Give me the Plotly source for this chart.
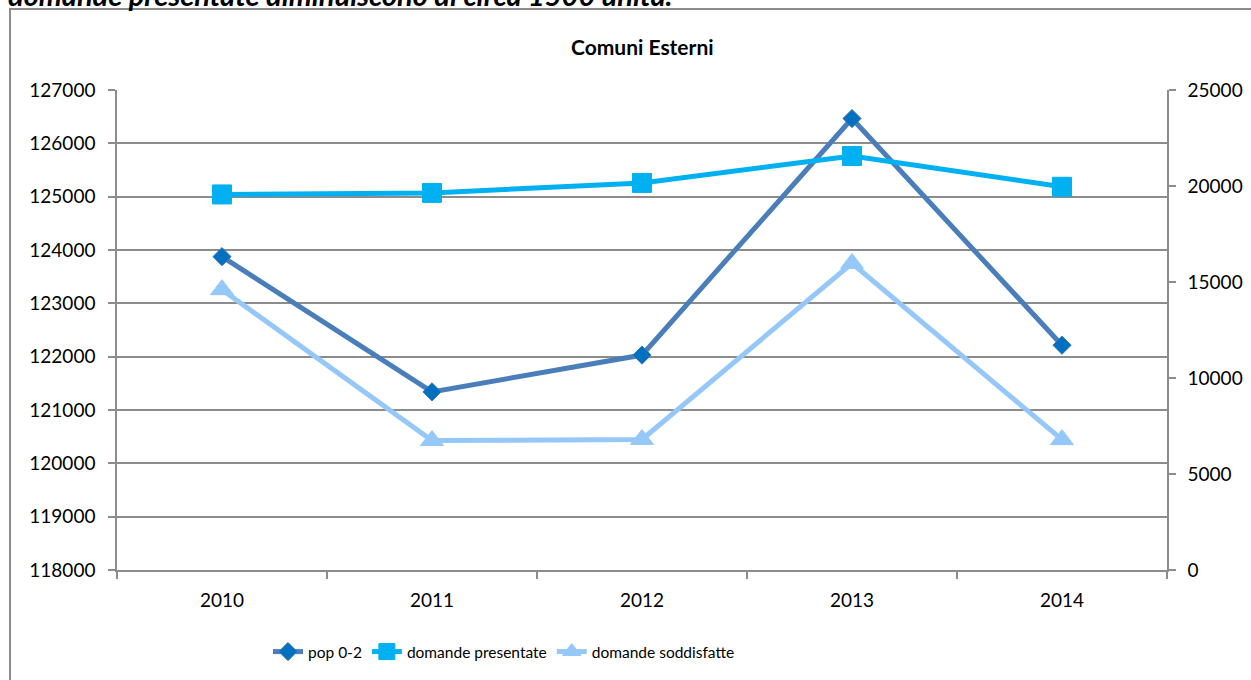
import plotly.graph_objects as go

years = ["2010", "2011", "2012", "2013", "2014"]
pop_0_2 = [123875, 121340, 122030, 126465, 122215]
domande_presentate = [19560, 19640, 20160, 21560, 19960]
domande_soddisfatte = [14600, 6740, 6800, 15970, 6790]

left_ticks = list(range(118000, 127001, 1000))
right_ticks = list(range(0, 25001, 5000))

FONT = "Lato"
GRID = "#8C8C8C"

fig = go.Figure()

fig.add_trace(go.Scatter(
    x=years, y=pop_0_2, name="pop 0-2", mode="lines+markers",
    line=dict(color="#4A7EBB", width=5),
    marker=dict(symbol="diamond", size=14, color="#0070C0",
                line=dict(color="#3F74B5", width=1)),
    yaxis="y",
))
fig.add_trace(go.Scatter(
    x=years, y=domande_presentate, name="domande presentate", mode="lines+markers",
    line=dict(color="#00B0F0", width=5),
    marker=dict(symbol="square", size=19, color="#00B0F0",
                line=dict(color="#00B0F0", width=1)),
    yaxis="y2",
))
fig.add_trace(go.Scatter(
    x=years, y=domande_soddisfatte, name="domande soddisfatte", mode="lines+markers",
    line=dict(color="#95C8F8", width=5),
    marker=dict(symbol="triangle-up", size=20, color="#95C8F8",
                line=dict(color="#95C8F8", width=1)),
    yaxis="y2",
))

fig.update_layout(
    width=1251, height=680,
    margin=dict(l=117, r=84, t=90, b=110, autoexpand=False),
    paper_bgcolor="white", plot_bgcolor="white",
    font=dict(family=FONT, size=19, color="black"),
    showlegend=True,
    legend=dict(orientation="h", x=(504 - 117) / 1050, xanchor="center",
                y=-(652 - 570) / 480, yanchor="middle",
                font=dict(family=FONT, size=15.5, color="black"),
                itemwidth=30, tracegroupgap=0, bgcolor="rgba(0,0,0,0)"),
    xaxis=dict(
        type="category", range=[-0.5, 4.5], tickson="boundaries",
        ticks="outside", ticklen=7, tickcolor=GRID, tickwidth=1.5,
        showline=True, linecolor=GRID, linewidth=1.5,
        showgrid=False, zeroline=False, fixedrange=True, automargin=False,
        tickfont=dict(family=FONT, size=19), ticklabelstandoff=12,
    ),
    yaxis=dict(
        range=[118000, 127000], tickvals=left_ticks,
        ticktext=[str(v) for v in left_ticks],
        ticks="outside", ticklen=7, tickcolor=GRID, tickwidth=1.5,
        showline=True, linecolor=GRID, linewidth=1.5, automargin=False,
        showgrid=True, gridcolor=GRID, gridwidth=1.5, zeroline=False,
        tickfont=dict(family=FONT, size=19), ticklabelstandoff=9,
    ),
    yaxis2=dict(
        range=[0, 25000], tickvals=right_ticks,
        ticktext=[str(v) for v in right_ticks],
        overlaying="y", side="right", automargin=False,
        ticks="outside", ticklen=7, tickcolor=GRID, tickwidth=1.5,
        showline=True, linecolor=GRID, linewidth=1.5,
        showgrid=False, zeroline=False,
        tickfont=dict(family=FONT, size=19), ticklabelstandoff=8,
    ),
    annotations=[
        dict(text="<b>Comuni Esterni</b>", xref="paper", yref="paper",
             x=0.5, y=(570 - 47) / 480, xanchor="center", yanchor="middle",
             showarrow=False, font=dict(family=FONT, size=21, color="black")),
        dict(text="<b><i>domande presentate diminuiscono di circa 1500 unità.</i></b>",
             xref="paper", yref="paper",
             x=(6 - 117) / 1050, y=(570 - 14) / 480, xanchor="left", yanchor="bottom",
             showarrow=False, font=dict(family=FONT, size=29, color="black")),
    ],
    shapes=[
        dict(type="rect", xref="paper", yref="paper",
             x0=(10 - 117) / 1050, x1=(1262 - 117) / 1050,
             y0=(570 - 700) / 480, y1=(570 - 9) / 480,
             line=dict(color="#8C8C8C", width=2), fillcolor="rgba(0,0,0,0)", layer="below"),
    ],
)

fig.write_html(
    "out.html",
    config={"displayModeBar": False},
    post_script="document.body.style.margin='0';document.body.style.overflow='hidden';",
)
